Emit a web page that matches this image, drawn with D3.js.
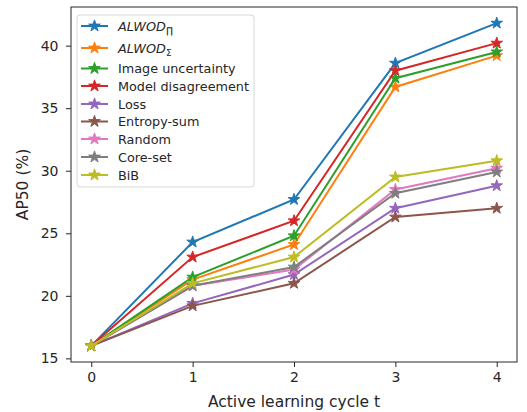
<!DOCTYPE html>
<html><head><meta charset="utf-8">
<script src="https://cdn.jsdelivr.net/npm/d3@7"></script>
<style>body{margin:0;background:#fff}svg{display:block}text{font-family:"DejaVu Sans",sans-serif;fill:#262626}</style>
</head><body><svg id="c" width="527" height="412"></svg>
<script>
const cycles = [0, 1, 2, 3, 4];
const seriesNames = ["ALWOD_P", "ALWOD_S", "Image uncertainty", "Model disagreement", "Loss", "Entropy-sum", "Random", "Core-set", "BiB"];
const alwodProd = [16, 24.3, 27.7, 38.6, 41.8];
const alwodSum = [16, 21.3, 24.1, 36.7, 39.2];
const imageUnc = [16, 21.5, 24.8, 37.4, 39.5];
const modelDis = [16, 23.1, 26.0, 38.0, 40.2];
const loss = [16, 19.4, 21.7, 27.0, 28.8];
const entropySum = [16, 19.2, 21.0, 26.3, 27.0];
const random = [16, 20.8, 22.1, 28.5, 30.2];
const coreSet = [16, 20.8, 22.3, 28.2, 29.9];
const bib = [16, 21.0, 23.1, 29.5, 30.8];
const yTicks = [15, 20, 25, 30, 35, 40];
const colors = ["#1f77b4", "#ff7f0e", "#2ca02c", "#d62728", "#9467bd", "#8c564b", "#e377c2", "#7f7f7f", "#bcbd22"];
const allValues = [alwodProd, alwodSum, imageUnc, modelDis, loss, entropySum, random, coreSet, bib];

const svg = d3.select("#c");
const L = 71, R = 517, T = 7, B = 362;
const x = d3.scaleLinear().domain([-0.2, 4.2]).range([L, R]);
const y = d3.scaleLinear().domain([14.71, 43.09]).range([B, T]);

// axes
const gx = svg.append("g").attr("transform", `translate(0,${B})`)
  .call(d3.axisBottom(x).tickValues(cycles).tickFormat(d3.format("d")).tickSize(5).tickPadding(5));
const gy = svg.append("g").attr("transform", `translate(${L},0)`)
  .call(d3.axisLeft(y).tickValues(yTicks).tickSize(5).tickPadding(7.5));
[gx, gy].forEach(g => {
  g.select(".domain").remove();
  g.selectAll("line").attr("stroke", "#262626").attr("stroke-width", 1);
  g.selectAll("text").style("font-family", "DejaVu Sans").style("font-size", "14px").attr("fill", "#262626");
});
svg.append("rect").attr("x", L).attr("y", T).attr("width", R - L).attr("height", B - T)
  .attr("fill", "none").attr("stroke", "#262626").attr("stroke-width", 1);

svg.append("text").attr("x", (L + R) / 2).attr("y", 407).attr("text-anchor", "middle")
  .style("font-size", "15.5px").text("Active learning cycle t");
svg.append("text").attr("transform", `translate(28,${(T + B) / 2}) rotate(-90)`).attr("text-anchor", "middle")
  .style("font-size", "15.5px").text("AP50 (%)");

const line = d3.line().x((d, i) => x(cycles[i])).y(d => y(d));
const star = d3.symbol().type(d3.symbolStar).size(42);
const plot = svg.append("g");
allValues.forEach((vals, k) => {
  plot.append("path").attr("d", line(vals)).attr("fill", "none").attr("stroke", colors[k]).attr("stroke-width", 2);
  plot.selectAll(null).data(vals).enter().append("path")
    .attr("d", star).attr("transform", (d, i) => `translate(${x(cycles[i])},${y(d)})`)
    .attr("fill", colors[k]).attr("stroke", colors[k]).attr("stroke-width", 1);
});

// legend
const lg = svg.append("g");
lg.append("rect").attr("x", 77).attr("y", 15).attr("width", 177).attr("height", 172).attr("rx", 3)
  .attr("fill", "#fff").attr("fill-opacity", 0.8).attr("stroke", "#d8d8d8").attr("stroke-width", 1);
const rowY = [26, 48, 68.5, 86, 104, 121.5, 139, 157, 175];
seriesNames.forEach((name, k) => {
  const yy = rowY[k];
  lg.append("line").attr("x1", 81).attr("x2", 108).attr("y1", yy).attr("y2", yy).attr("stroke", colors[k]).attr("stroke-width", 2);
  lg.append("path").attr("d", star).attr("transform", `translate(94.5,${yy})`).attr("fill", colors[k]).attr("stroke", colors[k]).attr("stroke-width", 1);
  const t = lg.append("text").attr("x", 118).attr("y", yy + 4.5).style("font-size", "12.8px");
  if (k < 2) {
    t.append("tspan").style("font-style", "italic").text("ALWOD");
    t.append("tspan").attr("dy", 3).style("font-size", "9px").text(k === 0 ? "\u220F" : "\u03A3");
  } else {
    t.text(name);
  }
});
</script></body></html>
